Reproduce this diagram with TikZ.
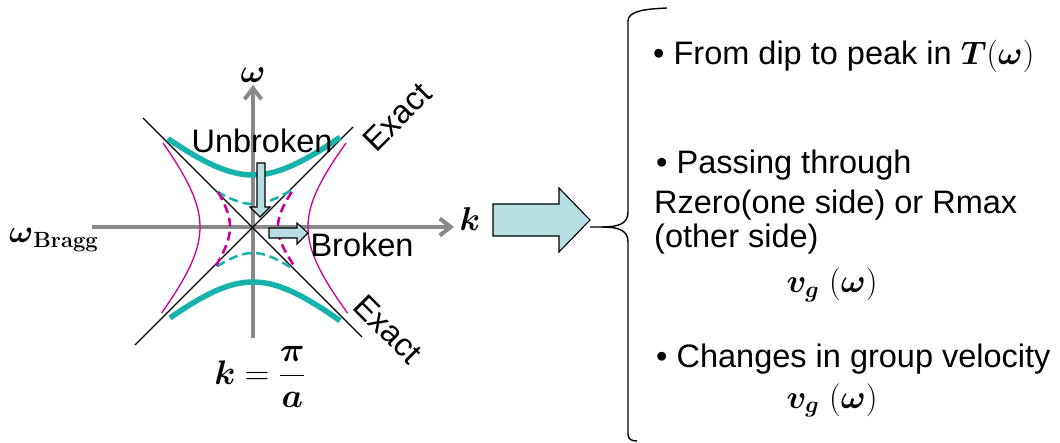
\RequirePackage{fix-cm}
\documentclass[tikz,border=0pt]{standalone}
\usepackage{amsmath}
\usepackage{bm}
\usepackage{fontspec}
\newfontfamily\arial{Liberation Sans}
\usetikzlibrary{arrows.meta}
\definecolor{axisgray}{RGB}{136,136,136}
\definecolor{tealc}{RGB}{23,178,172}
\definecolor{magc}{RGB}{204,0,153}
\definecolor{afill}{RGB}{183,222,226}
\tikzset{
  txt/.style={inner sep=0pt, font=\arial\fontsize{32.5}{34}\selectfont},
  mth/.style={inner sep=0pt, font=\fontsize{33}{36}\selectfont},
  axisline/.style={draw=axisgray, line width=4pt, -{Straight Barb[length=11pt,width=17pt]}},
  asym/.style={draw=black, line width=1.1pt},
  thickteal/.style={draw=tealc, line width=5.5pt},
  dashteal/.style={draw=tealc, line width=2.6pt, dash pattern=on 9pt off 5pt},
  dashmag/.style={draw=magc, line width=2.6pt, dash pattern=on 9pt off 5pt},
  thinmag/.style={draw=magc, line width=1.3pt},
  blockarrow/.style={draw=black, fill=afill, line width=1.1pt, line join=miter},
  bracestyle/.style={draw=black, line width=1.4pt}
}
\begin{document}
\begin{tikzpicture}[x=1pt,y=-1pt]
\useasboundingbox (0,0) rectangle (1060,443);
% named points
\coordinate (O) at (253,227);
\coordinate (wbot) at (253,338);
\coordinate (wtop) at (253,85);
\coordinate (kleft) at (92,227);
\coordinate (kright) at (454,227);
\coordinate (d1a) at (143,118);
\coordinate (d1b) at (362,337);
\coordinate (d2a) at (135,345);
\coordinate (d2b) at (353,127);
% axes
\draw[axisline] (wbot) -- (wtop);
\draw[axisline] (kleft) -- (kright);
% asymptotes
\draw[asym] (d1a) -- (d1b);
\draw[asym] (d2a) -- (d2b);
% thick teal (exact) curves
\draw[thickteal] plot[domain=-85:87, samples=50] ({253+\x},{227-sqrt(2704+0.705*\x*\x)});
\draw[thickteal] plot[domain=-83:87, samples=50] ({253+\x},{227+sqrt(3025+0.76*\x*\x)});
% dashed teal
\draw[dashteal] plot[domain=-36:40, samples=30] ({253+\x},{227-sqrt(529+0.56*\x*\x)});
\draw[dashteal] plot[domain=-36:40, samples=30] ({253+\x},{227+sqrt(676+0.675*\x*\x)});
% dashed magenta
\draw[dashmag] plot[domain=-35:41, samples=30] ({253-sqrt(529+0.56*\x*\x)},{227+\x});
\draw[dashmag] plot[domain=-35:40, samples=30] ({253+sqrt(625+0.71*\x*\x)},{227+\x});
% thin magenta
\draw[thinmag] plot[domain=-84:86, samples=50] ({253-sqrt(2809+0.75*\x*\x)},{227+\x});
\draw[thinmag] plot[domain=-84:86, samples=50] ({253+sqrt(3025+0.8*\x*\x)},{227+\x});
% small block arrows
\draw[blockarrow] (257,163) -- (265,163) -- (265,207) -- (270,207) -- (260,217) -- (250,207) -- (257,207) -- cycle;
\draw[blockarrow] (269,228) -- (297,228) -- (297,223) -- (308,233) -- (297,244) -- (297,238) -- (269,238) -- cycle;
% big block arrow
\draw[blockarrow] (493,204) -- (559,204) -- (559,188) -- (590,220) -- (559,252) -- (559,236) -- (493,236) -- cycle;
% brace
\coordinate (btip) at (590,227);
\draw[bracestyle] (667,8) .. controls (645,9) and (628,11) .. (628,21) -- (628,212)
  .. controls (628,223) and (620,227) .. (602,227) -- (btip);
\draw[bracestyle] (602,227) .. controls (620,227) and (628,231) .. (628,242) -- (628,434)
  .. controls (628,439) and (631,441) .. (637,441);
% labels left
\node[mth] (wlab) at (253,75) {$\bm{\omega}$};
\node[mth] (klab) at (470,219) {$\bm{k}$};
\node[mth, anchor=base west, font=\fontsize{32}{34}\selectfont] (wbragg) at (9,243) {$\bm{\omega}$\raisebox{-5pt}{\fontsize{22}{22}\selectfont\bfseries Bragg}};
\node[mth, font=\fontsize{34}{37}\selectfont] (kpa) at (260,377) {$\displaystyle \bm{k}=\frac{\bm{\pi}}{\bm{a}}$};
\node[txt, anchor=base] (unb) at (262,153) {Unbroken};
\node[txt, anchor=base] (brk) at (362,257) {Broken};
\node[txt, rotate=45] (ex1) at (397,117) {Exact};
\node[txt, rotate=-45] (ex2) at (388,329) {Exact};
% right texts
\node[txt, anchor=base west] (t1) at (653,65) {• From dip to peak in $\bm{T}(\bm{\omega})$};
\node[txt, anchor=base west] (t2) at (656,174) {• Passing through};
\node[txt, anchor=base west] (t3) at (654,214) {Rzero(one side) or Rmax};
\node[txt, anchor=base west] (t4) at (654,248) {(other side)};
\node[mth, anchor=base] (t5) at (832,293) {$\bm{v_g}\ (\bm{\omega})$};
\node[txt, anchor=base west] (t6) at (656,367) {• Changes in group velocity};
\node[mth, anchor=base] (t7) at (832,408) {$\bm{v_g}\ (\bm{\omega})$};
\end{tikzpicture}
\end{document}
